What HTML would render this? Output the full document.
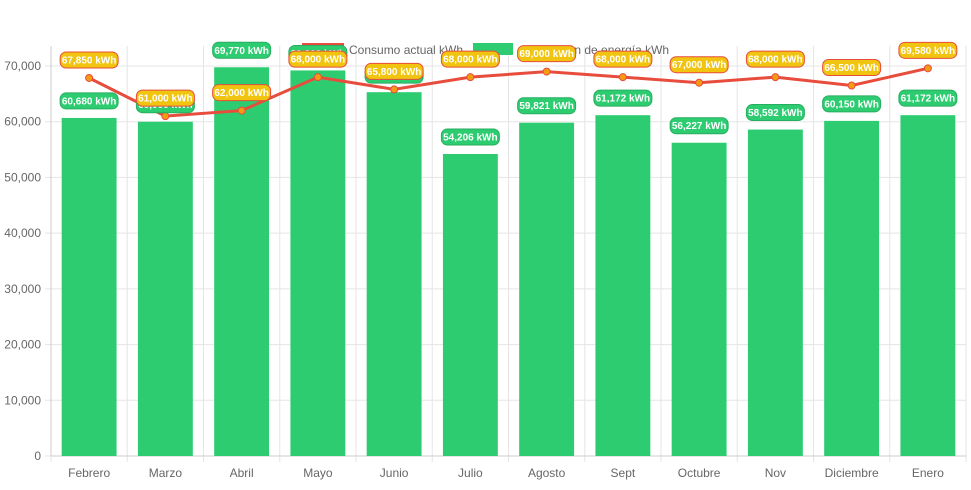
<!DOCTYPE html>
<html><head><meta charset="utf-8"><style>
body{margin:0;background:#fff;font-family:"Liberation Sans",sans-serif}
svg text{font-family:"Liberation Sans",sans-serif}
</style></head><body>
<svg id="c" width="971" height="485"></svg>
<script>
const categories=["Febrero","Marzo","Abril","Mayo","Junio","Julio","Agosto","Sept","Octubre","Nov","Diciembre","Enero"];
const generation=[60680,60000,69770,69203,65300,54206,59821,61172,56227,58592,60150,61172];
const consumption=[67850,61000,62000,68000,65800,68000,69000,68000,67000,68000,66500,69580];
const yTicks=[0,10000,20000,30000,40000,50000,60000,70000];
const L=51,R=966,T=66,B=456,MAX=70000;
const svg=document.getElementById('c');
const NS='http://www.w3.org/2000/svg';
const cw=(R-L)/categories.length;
const x=i=>L+cw*(i+0.5);
const y=v=>B-(v/MAX)*(B-T);
function mk(t,a,p){const e=document.createElementNS(NS,t);for(const k in a)e.setAttribute(k,a[k]);(p||svg).appendChild(e);return e;}
const fmt=v=>v.toLocaleString('en-US');
yTicks.forEach(v=>{
 const g=mk('line',{x1:L-6,x2:R,y1:y(v),y2:y(v),stroke:'#e5e5e5'});
 
 
 const t=mk('text',{x:L-10,y:y(v)+4,'text-anchor':'end','font-size':12,fill:'#666'});
 t.textContent=fmt(v);
 
 
});
for(let i=0;i<=categories.length;i++){
 const g=mk('line',{x1:L+cw*i,x2:L+cw*i,y1:T-20,y2:B+6,stroke:'#e5e5e5'});
 
 
}
mk('line',{x1:L,x2:L,y1:T-20,y2:B,stroke:'#ccc'});
mk('line',{x1:L,x2:R,y1:B,y2:B,stroke:'#ccc'});
categories.forEach((c,i)=>{
 const t=mk('text',{x:x(i),y:B+21,'text-anchor':'middle','font-size':12,fill:'#666'});
 t.textContent=c;
 
 
});
const lg=mk('g',{});


const l1=mk('rect',{x:302,y:43,width:42,height:12,fill:'#e74c3c'},lg);


const lt1=mk('text',{x:349,y:54,'font-size':12,fill:'#666'},lg);lt1.textContent='Consumo actual kWh';


const l2=mk('rect',{x:473,y:43,width:40,height:12,fill:'#2ecc71'},lg);


const lt2=mk('text',{x:519,y:54,'font-size':12,fill:'#666'},lg);lt2.textContent='Generación de energía kWh';


const bw=cw*0.72;
generation.forEach((v,i)=>{
 const b=mk('rect',{x:x(i)-bw/2,y:y(v),width:bw,height:B-y(v),fill:'#2ecc71'});
 
 
});
const pts=consumption.map((v,i)=>x(i)+','+y(v)).join(' ');
const pl=mk('polyline',{points:pts,fill:'none',stroke:'#e74c3c','stroke-width':3});


consumption.forEach((v,i)=>{
 const p=mk('circle',{cx:x(i),cy:y(v),r:3.5,fill:'#f39c12',stroke:'#e74c3c','stroke-width':1});
 
 
});
function label(cx,cy,txt,bg,border){
 const g=mk('g',{});
 const w=txt.length*5.2+6;
 mk('rect',{x:cx-w/2,y:cy-8,width:w,height:16,rx:6,fill:bg,stroke:border,'stroke-width':1},g);
 const t=mk('text',{x:cx,y:cy+3.5,'text-anchor':'middle','font-size':10,'font-weight':'bold',fill:'#fff'},g);
 t.textContent=txt;
 return g;
}
generation.forEach((v,i)=>{
 const g=label(x(i),y(v)-17,fmt(v)+' kWh','#2ecc71','#27ae60');
 
 
});
consumption.forEach((v,i)=>{
 const g=label(x(i),y(v)-18,fmt(v)+' kWh','#f1c40f','#e74c3c');
 
 
});
</script>
</body></html>
